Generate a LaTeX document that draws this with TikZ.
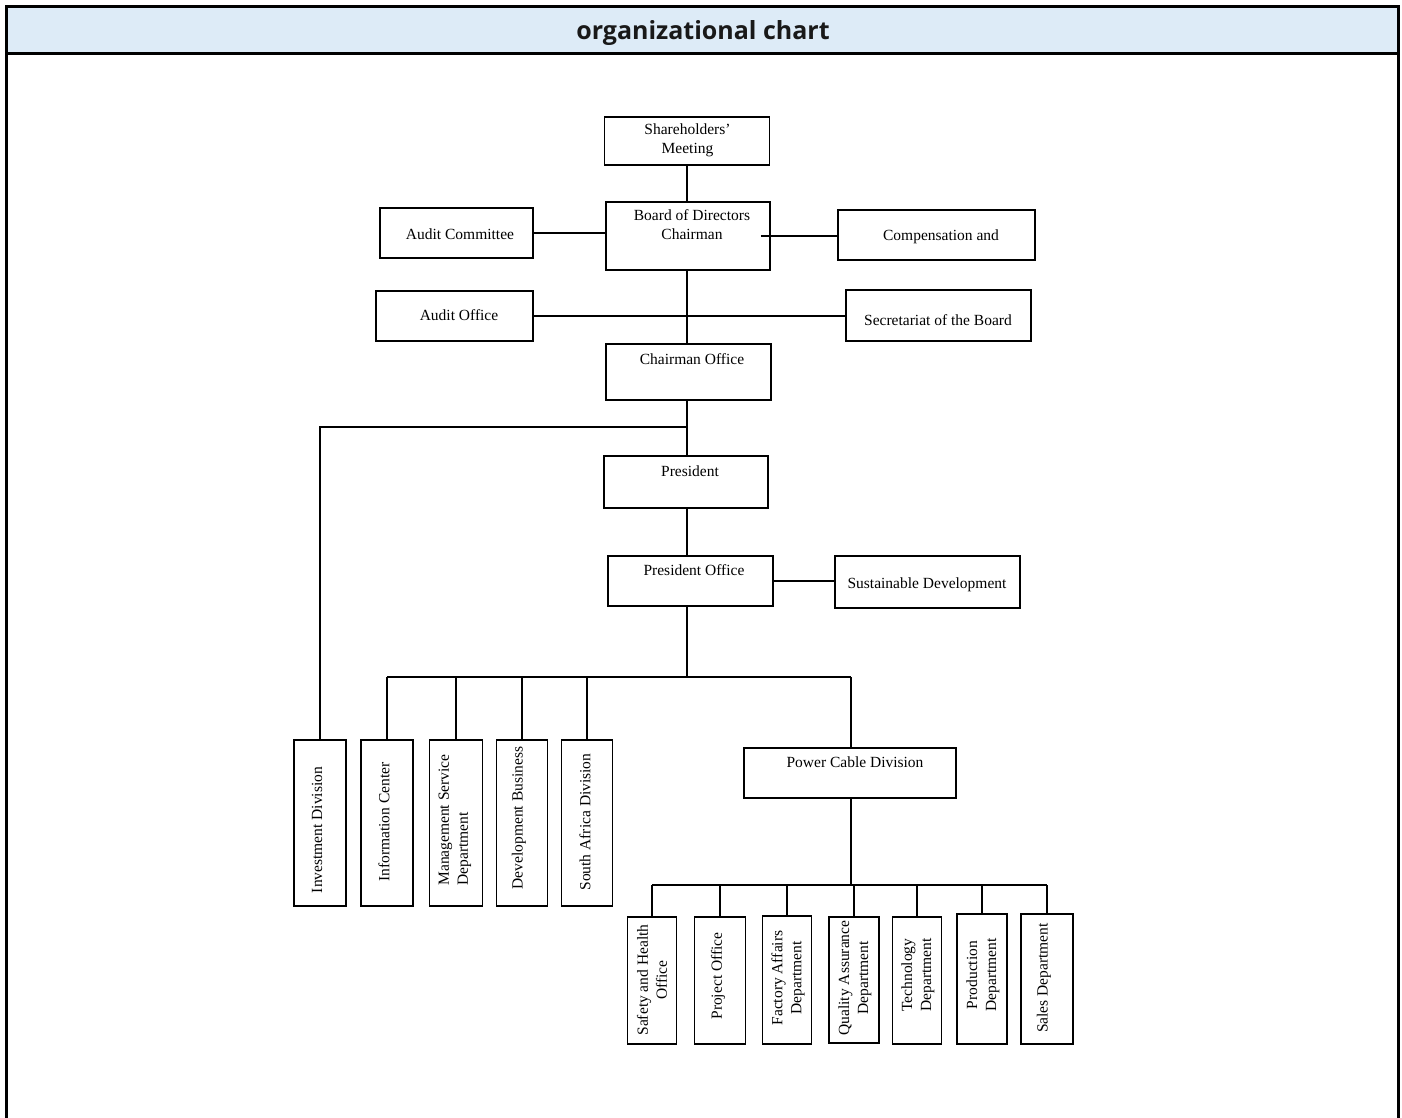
\documentclass[tikz,border=0pt]{standalone}
\usepackage{fontspec}
\setmainfont{Liberation Serif}
\newfontfamily\titlefont{Open Sans}
\definecolor{headfill}{RGB}{221,235,247}
\begin{document}
\begin{tikzpicture}[x=1pt,y=-1pt,
  unit/.style={draw=black, line width=1.8pt, rectangle, inner sep=0pt},
  lbl/.style={inner sep=0pt, align=center, font=\fontsize{15.5}{19}\selectfont},
  vlbl/.style={lbl, rotate=90},
  link/.style={draw=black, line width=1.9pt},
  frame/.style={draw=black, line width=3pt}]
\useasboundingbox (0,0) rectangle (1402,1118);

% page frame and title bar
\fill[headfill] (6.5,6.5) rectangle (1398.5,53.5);
\draw[frame] (6.5,1118) -- (6.5,6.5) -- (1398.5,6.5) -- (1398.5,1118);
\draw[frame] (6.5,53.5) -- (1398.5,53.5);
\node[anchor=base, inner sep=0pt, font=\titlefont\bfseries\fontsize{25}{30}\selectfont, text=black!90] (title) at (703,40) {organizational chart};

% governance level
\node[unit, minimum width=165pt, minimum height=48pt] (sh) at (687,141) {};
\node[lbl] (sh-t) at (687.5,140) {Shareholders’\\Meeting};
\node[unit, minimum width=164pt, minimum height=68pt] (board) at (688,236) {};
\node[lbl, anchor=north] (board-t) at (692,209) {Board of Directors\\Chairman};
\node[unit, minimum width=153pt, minimum height=50pt] (ac) at (456.5,233) {};
\node[lbl] (ac-t) at (460,234) {Audit Committee};
\node[unit, minimum width=197pt, minimum height=50pt] (comp) at (936.5,235) {};
\node[lbl] (comp-t) at (941,237) {Compensation and};
\node[unit, minimum width=157pt, minimum height=50pt] (ao) at (454.5,316) {};
\node[lbl] (ao-t) at (459,315) {Audit Office};
\node[unit, minimum width=185pt, minimum height=51pt] (sec) at (938.5,315.5) {};
\node[lbl] (sec-t) at (938,320) {Secretariat of the Board};
\node[unit, minimum width=165pt, minimum height=56pt] (co) at (688.5,372) {};
\node[lbl, anchor=north] (co-t) at (692,353) {Chairman Office};

% executive level
\node[unit, minimum width=164pt, minimum height=52pt] (pres) at (686,482) {};
\node[lbl, anchor=north] (pres-t) at (690,466) {President};
\node[unit, minimum width=165pt, minimum height=50pt] (po) at (690.5,581) {};
\node[lbl, anchor=north] (po-t) at (694,564) {President Office};
\node[unit, minimum width=185pt, minimum height=52pt] (sd) at (927.5,582) {};
\node[lbl] (sd-t) at (927,585) {Sustainable Development};

% divisions
\node[unit, minimum width=52pt, minimum height=166pt] (inv) at (320,823) {};
\node[vlbl] (inv-t) at (317,830) {Investment Division};
\node[unit, minimum width=52pt, minimum height=166pt] (info) at (387,823) {};
\node[vlbl] (info-t) at (384,822) {Information Center};
\node[unit, minimum width=53pt, minimum height=166pt] (mgmt) at (456,823) {};
\node[vlbl, align=left] (mgmt-t) at (455,820) {Management Service\\Department};
\node[unit, minimum width=51pt, minimum height=166pt] (dev) at (522,823) {};
\node[vlbl] (dev-t) at (519,818) {Development Business};
\node[unit, minimum width=51pt, minimum height=166pt] (sa) at (587,823) {};
\node[vlbl] (sa-t) at (585,822) {South Africa Division};
\node[unit, minimum width=212pt, minimum height=50pt] (pcd) at (850,773) {};
\node[lbl, anchor=north] (pcd-t) at (855,757) {Power Cable Division};

% power cable departments
\node[unit, minimum width=49pt, minimum height=127pt] (safe) at (652,980.5) {};
\node[vlbl] (safe-t) at (652,980) {Safety and Health\\Office};
\node[unit, minimum width=51pt, minimum height=127pt] (proj) at (720,980.5) {};
\node[vlbl] (proj-t) at (718,976) {Project Office};
\node[unit, minimum width=49pt, minimum height=128pt] (fact) at (787,980) {};
\node[vlbl] (fact-t) at (788,978) {Factory Affairs\\Department};
\node[unit, minimum width=50pt, minimum height=126pt] (qa) at (854,980) {};
\node[vlbl] (qa-t) at (855,978) {Quality Assurance\\Department};
\node[unit, minimum width=49pt, minimum height=127pt] (tech) at (917,980.5) {};
\node[vlbl] (tech-t) at (918,975) {Technology\\Department};
\node[unit, minimum width=50pt, minimum height=130pt] (prod) at (982,979) {};
\node[vlbl] (prod-t) at (983,975) {Production\\Department};
\node[unit, minimum width=52pt, minimum height=130pt] (sales) at (1047,979) {};
\node[vlbl] (sales-t) at (1044,978) {Sales Department};

% junction points of the buses
\coordinate (j1) at (687,427);
\coordinate (j2) at (687,677);
\coordinate (j3) at (851,885);

% governance connectors
\draw[link] (sh.south) -- (sh.south |- board.north);
\draw[link] (ac.east) -- (ac.east -| board.west);
\draw[link] ([xshift=-10pt]board.east) -- (board.east -| comp.west);
\draw[link] (board.south -| j1) -- (co.north -| j1);
\draw[link] (ao.east) -- (ao.east -| sec.west);

% executive connectors
\draw[link] (co.south -| j1) -- (pres.north -| j1);
\draw[link] (j1) -- (j1 -| inv.north) -- (inv.north);
\draw[link] (pres.south -| j1) -- (po.north -| j1);
\draw[link] (po.east) -- (po.east -| sd.west);

% division bus
\draw[link] (po.south -| j2) -- (j2);
\draw[link] (j2 -| info.north) -- (j2 -| j3);
\foreach \n in {info,mgmt,dev,sa}
  \draw[link] (j2 -| \n.north) -- (\n.north);
\draw[link] (j2 -| j3) -- (pcd.north -| j3);

% department bus
\draw[link] (pcd.south -| j3) -- (j3);
\draw[link] (j3 -| safe.north) -- (j3 -| sales.north);
\foreach \n in {safe,proj,fact,qa,tech,prod,sales}
  \draw[link] (j3 -| \n.north) -- (\n.north);
\end{tikzpicture}
\end{document}
